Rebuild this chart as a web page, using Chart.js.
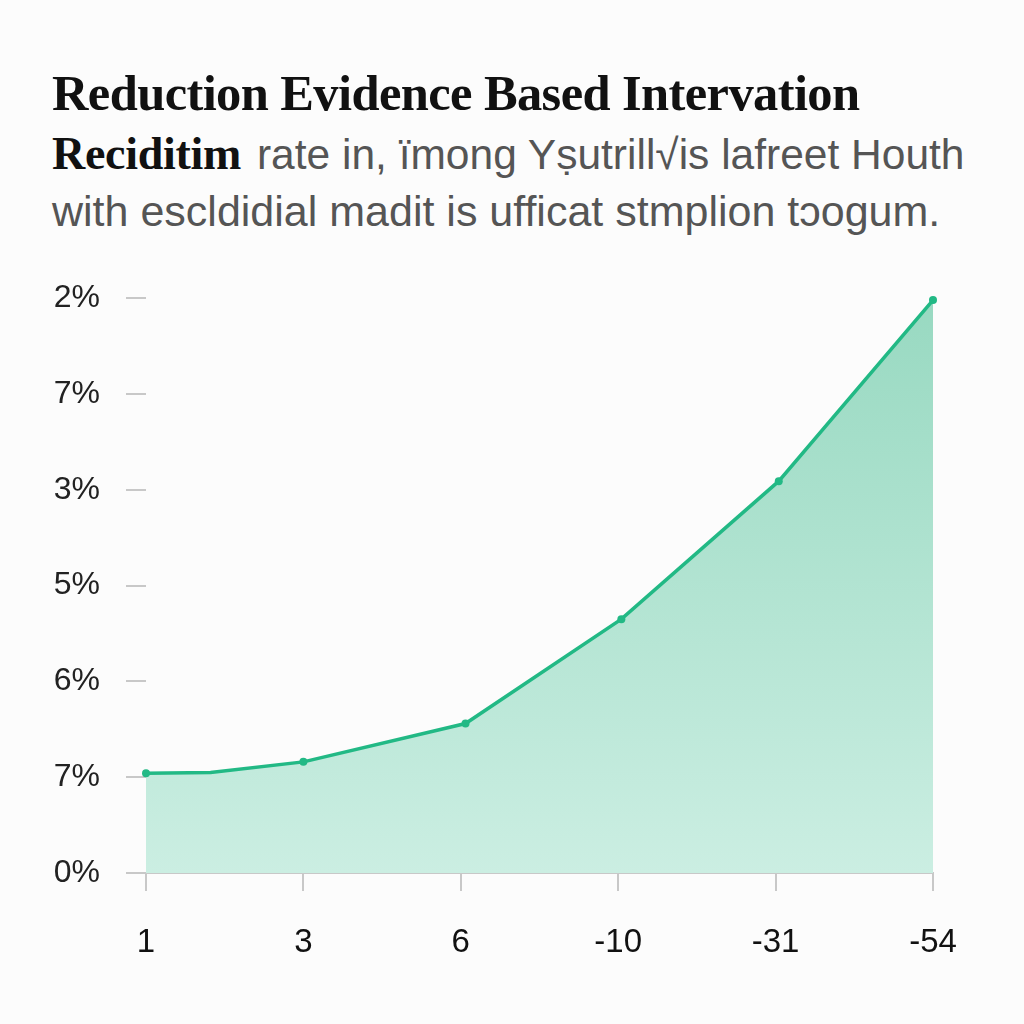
<!DOCTYPE html>
<html>
<head>
<meta charset="utf-8">
<script src="https://cdn.jsdelivr.net/npm/chart.js@4/dist/chart.umd.min.js"></script>
<style>
  html, body { margin: 0; padding: 0; background: #fcfcfc; }
  body { width: 1024px; height: 1024px; position: relative; overflow: hidden; }
  .heading { position: absolute; left: 52px; top: 64px; width: 980px; }
  .heading div { white-space: nowrap; line-height: 58px; position: relative; }
  .serif { font-family: "Liberation Serif", "DejaVu Serif", serif; font-weight: bold; color: #111; }
  .big { font-size: 50.5px; letter-spacing: -0.6px; }
  .mid { font-size: 46px; letter-spacing: -0.3px; }
  .sans { font-family: "Liberation Sans", Arial, sans-serif; color: #555; font-size: 42.5px; }
  .gap { margin-left: 16px; }
  #wrap { position: absolute; left: 0; top: 253px; width: 1024px; height: 747px; }
</style>
</head>
<body>
<div class="heading">
  <div class="serif big">Reduction Evidence Based Intervation</div>
  <div style="top:3px"><span class="serif mid">Reciditim</span><span class="sans gap">rate in, ïmong Yṣutrill√is lafreet Houth</span></div>
  <div class="sans" style="font-size:43px; top:-8px">with escldidial madit is ufficat stmplion tɔogum.</div>
</div>
<div id="wrap"><canvas id="chart"></canvas></div>
<script>
"use strict"

// tick labels as printed on the picture (bottom to top for y)
var arrXLabels = ["1", "3", "6", "-10", "-31", "-54"];
var arrYLabels = ["0%", "7%", "6%", "5%", "3%", "7%", "2%"];

// series (x in tick steps, y in tick steps)
var arrXValues = [0, 0.41, 1.0, 2.03, 3.02, 4.02, 5];
var arrYValues = [1.04, 1.05, 1.16, 1.56, 2.65, 4.09, 5.98];
// the second point has no marker
var arrPointRadius = [4, 0, 4, 4, 4, 4, 4];

var COLOR_LINE = "#22b985";
var COLOR_AXIS = "#c8c8c8";

var arrPoints = arrXValues.map(function(x, i){
    return {x: x, y: arrYValues[i]};
});

// gradient fill, darker at the top
function fillGradient(context){
    var chart = context.chart;
    var area = chart.chartArea;
    if(!area){
        return "rgba(160,220,198,0.8)";
    }
    var g = chart.ctx.createLinearGradient(0, area.top, 0, area.bottom);
    g.addColorStop(0, "#98d9c1");
    g.addColorStop(1, "#cbeee2");
    return g;
}

var chart = new Chart("chart", {
    type: "line",
    data: {
        datasets: [{
            data: arrPoints,
            borderColor: COLOR_LINE,
            borderWidth: 3.5,
            pointRadius: arrPointRadius,
            pointBackgroundColor: COLOR_LINE,
            pointBorderWidth: 0,
            fill: "origin",
            backgroundColor: fillGradient,
            tension: 0,
            clip: false
        }]
    },
    options: {
        responsive: true,
        maintainAspectRatio: false,
        animation: false,
        layout: {
            padding: {top: 13, right: 91, bottom: 0, left: 0}
        },
        plugins: {
            legend: {display: false},
            tooltip: {enabled: false}
        },
        scales: {
            x: {
                type: "linear",
                min: 0,
                max: 5,
                afterFit: function(scale){ scale.height = 127; },
                border: {display: true, color: COLOR_AXIS, width: 2},
                grid: {drawOnChartArea: false, drawTicks: true, tickLength: 18, color: COLOR_AXIS, lineWidth: 2},
                ticks: {
                    stepSize: 1,
                    padding: 32,
                    color: "#111",
                    font: {family: "'Liberation Sans', Arial, sans-serif", size: 33},
                    callback: function(value){ return arrXLabels[value]; }
                }
            },
            y: {
                min: 0,
                max: 6,
                afterFit: function(scale){ scale.width = 146; },
                border: {display: false},
                grid: {drawOnChartArea: false, drawTicks: true, tickLength: 20, color: COLOR_AXIS, lineWidth: 2},
                ticks: {
                    stepSize: 1,
                    padding: 26,
                    color: "#222",
                    font: {family: "'Liberation Sans', Arial, sans-serif", size: 32},
                    callback: function(value){ return arrYLabels[value]; }
                }
            }
        }
    }
});
</script>
</body>
</html>
